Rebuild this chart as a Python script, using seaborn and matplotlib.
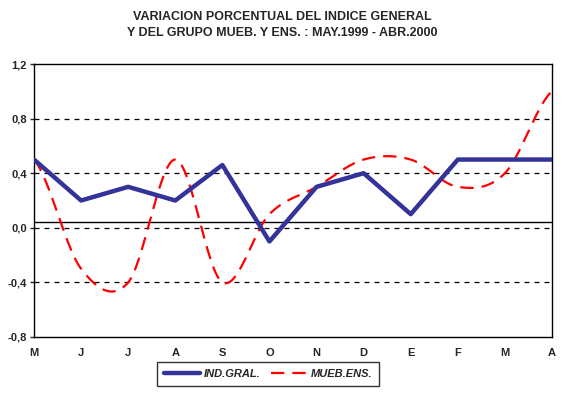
import numpy as np
import pandas as pd
import matplotlib
matplotlib.use("Agg")
import matplotlib.pyplot as plt
import seaborn as sns

months = ["M", "J", "J", "A", "S", "O", "N", "D", "E", "F", "M", "A"]
ind_gral = [0.5, 0.2, 0.3, 0.2, 0.46, -0.1, 0.3, 0.4, 0.1, 0.5, 0.5, 0.5]
mueb_ens = [0.5, -0.3, -0.4, 0.5, -0.4, 0.1, 0.3, 0.5, 0.5, 0.3, 0.4, 1.0]
yticks = [-0.8, -0.4, 0.0, 0.4, 0.8, 1.2]


def smooth(y, steps=30):
    # catmull-rom curve through the points, like excel's smoothed line
    y = np.asarray(y, float)
    p = np.concatenate([[y[0]], y, [y[-1]]])
    xs, ys = [], []
    for i in range(len(y) - 1):
        p0, p1, p2, p3 = p[i], p[i + 1], p[i + 2], p[i + 3]
        t = np.linspace(0, 1, steps, endpoint=False)
        yy = 0.5 * ((2 * p1) + (-p0 + p2) * t + (2 * p0 - 5 * p1 + 4 * p2 - p3) * t ** 2
                    + (-p0 + 3 * p1 - 3 * p2 + p3) * t ** 3)
        xs.extend(i + t)
        ys.extend(yy)
    xs.append(len(y) - 1)
    ys.append(y[-1])
    return np.array(xs), np.array(ys)


sns.set_style("white")
plt.rcParams['font.family'] = ['Liberation Sans', 'DejaVu Sans']

fig = plt.figure(figsize=(5.64, 3.94), dpi=100)
ax = fig.add_axes([34 / 564, 1 - 337 / 394, 518 / 564, 273 / 394])

for v in [0.8, 0.4, 0.0, -0.4]:
    ax.axhline(v, color="black", lw=0.9, ls=(0, (4, 4)), zorder=1)
ax.axhline(0.044, color="black", lw=1.0, zorder=1)

x = np.arange(len(months))
sns.lineplot(x=x, y=ind_gral, ax=ax, color="#333399", lw=3.2,
             label="IND.GRAL.", zorder=3)
sx, sy = smooth(mueb_ens)
sns.lineplot(x=sx, y=sy, ax=ax, color="#FF0000", lw=1.6, sort=False,
             dashes=False, ls=(0, (6, 3.6)), label="MUEB.ENS.", zorder=2)

ax.set_xlim(0, len(months) - 1)
ax.set_ylim(-0.8, 1.2)
ax.set_xticks(x)
ax.set_xticklabels(months, fontsize=8, fontweight="bold")
ax.set_yticks(yticks)
ax.set_yticklabels([f"{v:.1f}".replace(".", ",") for v in yticks],
                   fontsize=8, fontweight="bold")
ax.tick_params(axis="x", direction="in", length=3, width=1, pad=8)
ax.tick_params(axis="y", direction="out", length=3, width=1, pad=2, left=True)
for s in ax.spines.values():
    s.set_color("black")
    s.set_linewidth(1)

fig.text(0.5, 1 - 17 / 394, "VARIACION PORCENTUAL DEL INDICE GENERAL",
         ha="center", va="center", fontsize=9, fontweight="bold")
fig.text(0.5, 1 - 33 / 394, "Y DEL GRUPO MUEB. Y ENS. : MAY.1999 - ABR.2000",
         ha="center", va="center", fontsize=9, fontweight="bold")

leg = ax.legend(loc="center", bbox_to_anchor=(268 / 564, 1 - 374 / 394),
                bbox_transform=fig.transFigure, ncol=2, frameon=True,
                fancybox=False, edgecolor="black", handlelength=3.3,
                columnspacing=0.9, handletextpad=0.3, borderpad=0.6,
                borderaxespad=0,
                prop={"size": 8, "weight": "bold", "style": "italic"})
leg.get_frame().set_linewidth(1)

fig.savefig("out.png", dpi=100)
